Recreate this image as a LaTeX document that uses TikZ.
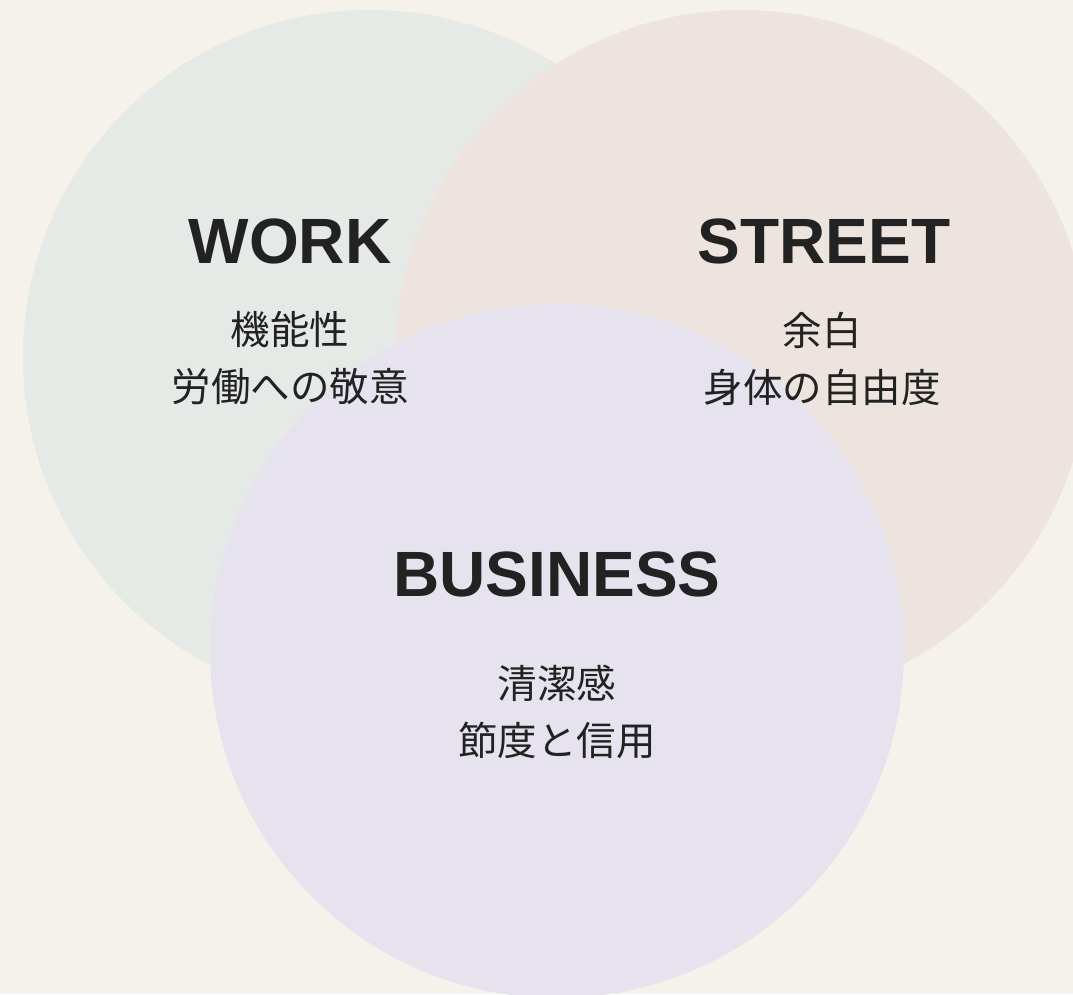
\documentclass[tikz,border=0pt]{standalone}
\usepackage{fontspec}
\setmainfont{Liberation Sans}
\newfontfamily\jpfont{Noto Sans CJK JP}
\definecolor{bg}{HTML}{F5F2EC}
\definecolor{workc}{HTML}{E6EAE7}
\definecolor{streetc}{HTML}{EDE4DF}
\definecolor{busc}{HTML}{E6E2EE}
\definecolor{ink}{HTML}{222222}
\tikzset{
  title/.style={font=\fontsize{64}{70}\selectfont\bfseries, text=ink, inner sep=0pt},
  sub/.style={font=\jpfont\fontsize{39.5}{45}\selectfont, text=ink, inner sep=0pt}
}
\begin{document}
\begin{tikzpicture}[x=1pt,y=-1pt]
\fill[bg] (0,0) rectangle (1073,994);
\useasboundingbox (0,0) rectangle (1073,994);
\fill[workc] (370,357) circle (347);
\fill[streetc] (742,357) circle (347);
\fill[busc] (557,651) circle (347);
\node[title] (work) at (290,241) {WORK};
\node[sub] (work1) at (290,330) {機能性};
\node[sub] (work2) at (290,387) {労働への敬意};
\node[title] (street) at (824,241) {STREET};
\node[sub] (street1) at (822,330) {余白};
\node[sub] (street2) at (822,387) {身体の自由度};
\node[title] (business) at (557,574) {BUSINESS};
\node[sub] (bus1) at (557,683) {清潔感};
\node[sub] (bus2) at (557,740) {節度と信用};
\end{tikzpicture}
\end{document}
